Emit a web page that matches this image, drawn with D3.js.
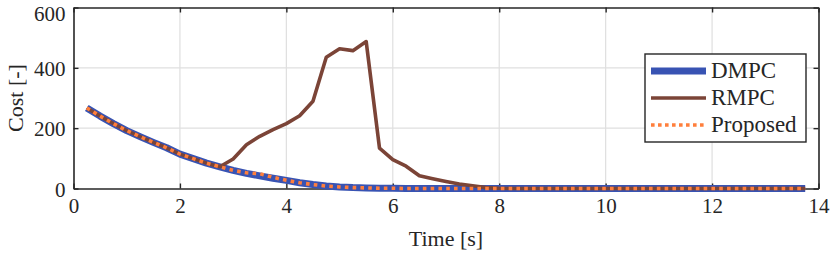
<!DOCTYPE html>
<html>
<head>
<meta charset="utf-8">
<script src="https://cdn.jsdelivr.net/npm/d3@7"></script>
<style>
body{margin:0;background:#fff;}
</style>
</head>
<body>
<div id="wrapper"></div>
<script>
// Data
const time = [0.25,0.5,0.75,1,1.25,1.5,1.75,2,2.25,2.5,2.75,3,3.25,3.5,3.75,4,4.25,4.5,4.75,5,
  5.25,5.5,5.75,6,6.25,6.5,6.75,7,7.25,7.5,7.75,8,8.25,8.5,8.75,9,9.25,9.5,9.75,10,
  10.25,10.5,10.75,11,11.25,11.5,11.75,12,12.25,12.5,12.75,13,13.25,13.5,13.75];
const dmpc = [267,240,215,192,172,153,135,114,99,84,72,60,50,42,34,27,19,13,8,5,
  3,2,1,1,0,0,0,0,0,0,0,0,0,0,0,0,0,0,0,0,
  0,0,0,0,0,0,0,0,0,0,0,0,0,0,0];
const rmpc = [267,240,215,192,172,153,135,114,99,84,72,98,145,173,195,215,241,289,435,463,
  457,487,134,96,74,42,32,23,15,9,3,1,0,0,0,0,0,0,0,0,
  0,0,0,0,0,0,0,0,0,0,0,0,0,0,0];
const proposed = [267,240,215,192,172,153,135,114,99,84,72,60,52,49,37,27,19,13,8,5,
  3,2,1,1,0,0,0,0,0,0,0,0,0,0,0,0,0,0,0,0,
  0,0,0,0,0,0,0,0,0,0,0,0,0,0,0];
const xTicks = [0,2,4,6,8,10,12,14];
const yTicks = [0,200,400,600];
const seriesNames = ['DMPC','RMPC','Proposed'];

const FONT = 'Liberation Serif';
const INK = '#262626';

// Dimensions
const dimensions = {width:830,height:255,margins:{top:7.5,bottom:66.5,left:73.5,right:11.5}};
dimensions.boundedWidth = dimensions.width-dimensions.margins.left-dimensions.margins.right;
dimensions.boundedHeight = dimensions.height-dimensions.margins.top-dimensions.margins.bottom;

const svg = d3.select('#wrapper').append('svg')
  .attr('width',dimensions.width).attr('height',dimensions.height)
  .style('font-family',FONT);
const bounds = svg.append('g')
  .attr('transform',`translate(${dimensions.margins.left},${dimensions.margins.top})`);

// Scales
const xScale = d3.scaleLinear().domain([0,14]).range([0,dimensions.boundedWidth]);
const yScale = d3.scaleLinear().domain([0,600]).range([dimensions.boundedHeight,0]);

// Grid
bounds.append('g').selectAll('line').data(xTicks.slice(1,-1)).join('line')
  .attr('x1',d=>xScale(d)).attr('x2',d=>xScale(d))
  .attr('y1',0).attr('y2',dimensions.boundedHeight)
  .attr('stroke','#dfdfdf').attr('stroke-width',1.2);
bounds.append('g').selectAll('line').data(yTicks.slice(1,-1)).join('line')
  .attr('y1',d=>yScale(d)).attr('y2',d=>yScale(d))
  .attr('x1',0).attr('x2',dimensions.boundedWidth)
  .attr('stroke','#dfdfdf').attr('stroke-width',1.2);

// Axes
const tickLen = 5;
const xAxis = bounds.append('g').attr('transform',`translate(0,${dimensions.boundedHeight})`)
  .call(d3.axisBottom(xScale).tickValues(xTicks).tickSizeInner(-tickLen).tickSizeOuter(0).tickPadding(10));
const xAxisTop = bounds.append('g')
  .call(d3.axisTop(xScale).tickValues(xTicks).tickSizeInner(-tickLen).tickSizeOuter(0).tickFormat(''));
const yAxis = bounds.append('g')
  .call(d3.axisLeft(yScale).tickValues(yTicks).tickSizeInner(-tickLen).tickSizeOuter(0).tickPadding(8));
const yAxisRight = bounds.append('g').attr('transform',`translate(${dimensions.boundedWidth},0)`)
  .call(d3.axisRight(yScale).tickValues(yTicks).tickSizeInner(-tickLen).tickSizeOuter(0).tickFormat(''));
[xAxis,xAxisTop,yAxis,yAxisRight].forEach(a=>{
  a.attr('font-family',FONT).style('font-family',FONT);
  a.select('.domain').attr('stroke',INK).attr('stroke-width',1.6);
  a.selectAll('.tick line').attr('stroke',INK).attr('stroke-width',1.4);
  a.selectAll('.tick text').style('font-family',FONT).style('font-size','21px').attr('fill',INK);
});
yAxis.selectAll('.tick text').attr('dy','0.36em');
yAxis.selectAll('.tick').filter(d=>d===600).select('text').attr('dy','0.6em');

// Lines
const lineGen = vals => d3.line().x((d,i)=>xScale(time[i])).y(d=>yScale(d))(vals);
bounds.append('path').attr('d',lineGen(dmpc))
  .attr('fill','none').attr('stroke','#3853b3').attr('stroke-width',7).attr('stroke-linejoin','round');
bounds.append('path').attr('d',lineGen(rmpc))
  .attr('fill','none').attr('stroke','#7b4437').attr('stroke-width',3.6).attr('stroke-linejoin','round');
bounds.append('path').attr('d',lineGen(proposed))
  .attr('fill','none').attr('stroke','#ff7f3c').attr('stroke-width',3.6).attr('stroke-dasharray','3.6,4.2');

// Axis labels
svg.append('text').text('Time [s]')
  .attr('x',dimensions.margins.left+dimensions.boundedWidth/2).attr('y',246)
  .attr('text-anchor','middle').attr('fill',INK)
  .style('font-family',FONT).style('font-size','22px');
svg.append('text').text('Cost [-]')
  .attr('transform',`translate(23,${dimensions.margins.top+dimensions.boundedHeight/2}) rotate(-90)`)
  .attr('text-anchor','middle').attr('fill',INK)
  .style('font-family',FONT).style('font-size','22px');

// Legend
const legend = svg.append('g').attr('transform','translate(645,54)');
legend.append('rect').attr('width',161).attr('height',88)
  .attr('fill','#fff').attr('stroke',INK).attr('stroke-width',1.4);
const legendStyles = [
  {color:'#3853b3',width:7,dash:null},
  {color:'#7b4437',width:3.6,dash:null},
  {color:'#ff7f3c',width:3.6,dash:'3.6,3.4'}
];
const rows = legend.selectAll('g.row').data(seriesNames).join('g')
  .attr('transform',(d,i)=>`translate(0,${17+i*27})`);
rows.append('line').attr('x1',6).attr('x2',61).attr('y1',0).attr('y2',0)
  .attr('stroke',(d,i)=>legendStyles[i].color).attr('stroke-width',(d,i)=>legendStyles[i].width)
  .attr('stroke-dasharray',(d,i)=>legendStyles[i].dash);
rows.append('text').text(d=>d).attr('x',66).attr('y',7).attr('fill',INK)
  .style('font-family',FONT).style('font-size','23px');
</script>
</body>
</html>
